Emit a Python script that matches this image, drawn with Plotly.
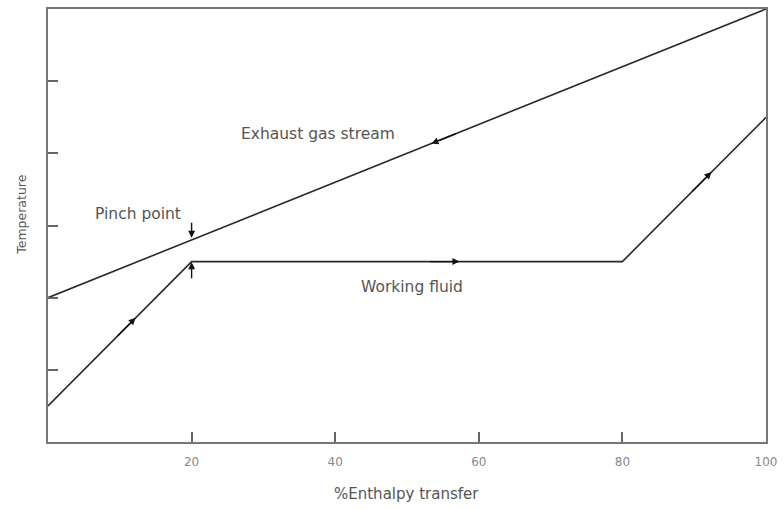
import plotly.graph_objects as go

# Data
gas_x = [0, 100]
gas_y = [2.0, 6.0]
fluid_x = [0, 20, 80, 100]
fluid_y = [0.5, 2.5, 2.5, 4.5]
x_ticks = [20, 40, 60, 80, 100]
x_tick_labels = ["20", "40", "60", "80", "100"]
y_ticks = [0, 1, 2, 3, 4, 5, 6]

# flow-direction arrows: (tip_x, tip_y, tail_x, tail_y)
flow_arrows = [
    (53.4, 2.0 + 0.04 * 53.4, 57.0, 2.0 + 0.04 * 57.0),
    (12.2, 0.5 + 0.1 * 12.2, 9.5, 0.5 + 0.1 * 9.5),
    (57.3, 2.5, 53.0, 2.5),
    (92.4, 2.5 + 0.1 * 12.4, 89.5, 2.5 + 0.1 * 9.5),
]
# pinch markers: (tip_x, tip_y, tail_x, tail_y)
pinch_arrows = [
    (20, 2.83, 20, 3.06),
    (20, 2.49, 20, 2.25),
]

LINE = "#2a2a2a"
TXT = "#555555"
FONT = "DejaVu Sans, Verdana, sans-serif"

fig = go.Figure()
fig.add_trace(go.Scatter(x=gas_x, y=gas_y, mode="lines",
                         line=dict(color=LINE, width=1.6), showlegend=False, hoverinfo="skip"))
fig.add_trace(go.Scatter(x=fluid_x, y=fluid_y, mode="lines",
                         line=dict(color=LINE, width=1.6), showlegend=False, hoverinfo="skip"))

ann = []
for tx, ty, sx, sy in flow_arrows + pinch_arrows:
    ann.append(dict(x=tx, y=ty, ax=sx, ay=sy, xref="x", yref="y", axref="x", ayref="y",
                    text="", showarrow=True, arrowhead=2, arrowsize=1.0, arrowwidth=1.4,
                    arrowcolor="#111111"))

ann += [
    dict(x=37.6, y=4.27, xref="x", yref="y", text="Exhaust gas stream", showarrow=False,
         font=dict(family=FONT, size=15.5, color=TXT)),
    dict(x=12.6, y=3.16, xref="x", yref="y", text="Pinch point", showarrow=False,
         font=dict(family=FONT, size=15.5, color=TXT)),
    dict(x=50.7, y=2.15, xref="x", yref="y", text="Working fluid", showarrow=False,
         font=dict(family=FONT, size=15.5, color=TXT)),
    dict(x=0.499, y=-0.120, xref="paper", yref="paper", xanchor="center", yanchor="middle",
         text="%Enthalpy transfer", showarrow=False, font=dict(family=FONT, size=15, color=TXT)),
    dict(x=-0.038, y=0.524, xref="paper", yref="paper", xanchor="center", yanchor="middle",
         text="Temperature", showarrow=False, textangle=-90,
         font=dict(family=FONT, size=12.5, color=TXT)),
]

fig.update_layout(
    width=784, height=509,
    margin=dict(l=48, r=13, t=7, b=67),
    plot_bgcolor="white", paper_bgcolor="white",
    annotations=ann,
    xaxis=dict(range=[0, 100], tickvals=x_ticks, ticktext=x_tick_labels,
               ticks="inside", ticklen=10, tickwidth=1.5, tickcolor="#666666",
               showline=True, linecolor="#777777", linewidth=2, mirror=True,
               showgrid=False, zeroline=False, ticklabelstandoff=8,
               tickfont=dict(family=FONT, size=12, color="#888888")),
    yaxis=dict(range=[0, 6], tickvals=y_ticks, showticklabels=False,
               ticks="inside", ticklen=10, tickwidth=1.5, tickcolor="#666666",
               showline=True, linecolor="#777777", linewidth=2, mirror=True,
               showgrid=False, zeroline=False),
)

fig.write_html("out.html", config={"displayModeBar": False},
               post_script="document.body.style.margin='0';")
